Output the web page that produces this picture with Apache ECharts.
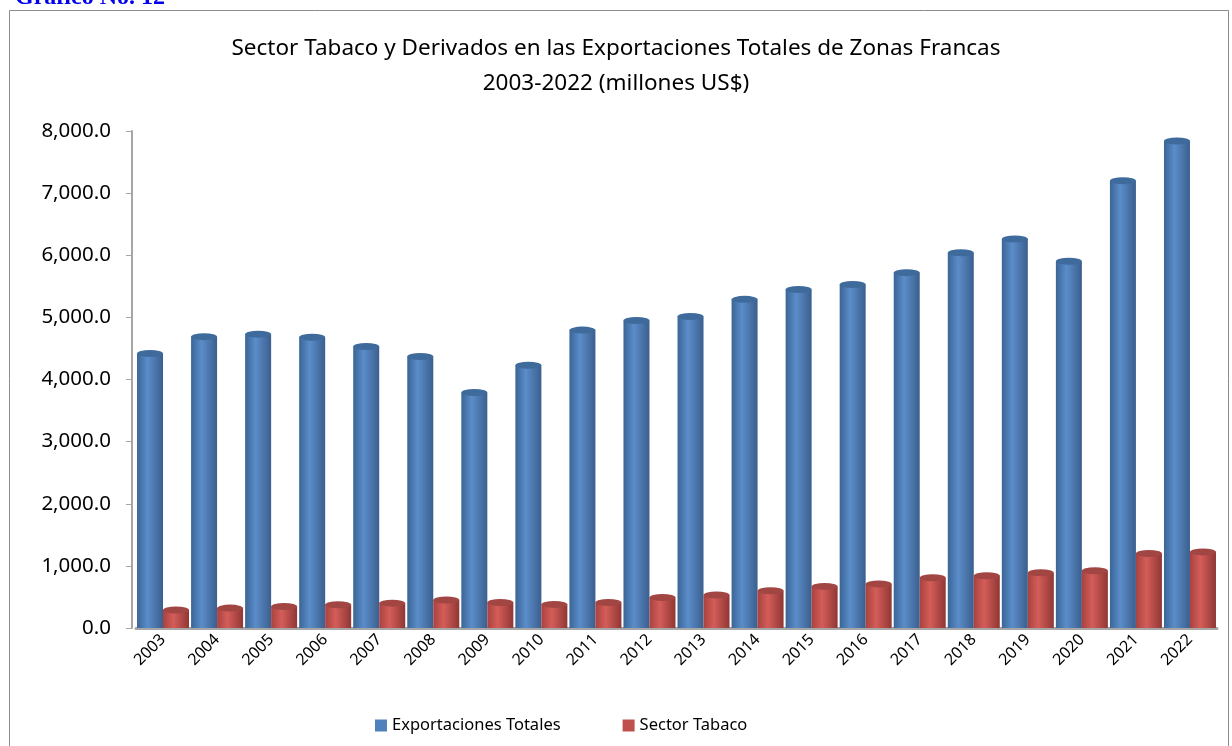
<!DOCTYPE html>
<html>
<head>
    <meta charset="UTF-8">
    <title>Sector Tabaco</title>
    <script src="https://cdn.jsdelivr.net/npm/echarts@6/dist/echarts.min.js"></script>
    <style>
        html, body {margin: 0; padding: 0; background: #fff;}
    </style>
</head>
<body>
    <div id="main" style="width:1232px;height:746px"></div>
    <script>
        // datos
        var years = ['2003','2004','2005','2006','2007','2008','2009','2010','2011','2012',
                     '2013','2014','2015','2016','2017','2018','2019','2020','2021','2022'];
        var exportaciones = [4420, 4690, 4730, 4680, 4530, 4370, 3790, 4230, 4795, 4950,
                             5015, 5290, 5450, 5530, 5720, 6040, 6260, 5905, 7200, 7840];
        var tabaco = [290, 320, 345, 375, 400, 450, 410, 380, 410, 490,
                      530, 600, 670, 710, 810, 840, 890, 920, 1200, 1225];
        var yTicks = [0, 1000, 2000, 3000, 4000, 5000, 6000, 7000, 8000];

        var font = '"Noto Sans", "Open Sans", sans-serif';

        function fmt(v) {
            return v.toLocaleString('en-US', {minimumFractionDigits: 1, maximumFractionDigits: 1});
        }

        function cyl(c1, c2, c3) {
            return new echarts.graphic.LinearGradient(0, 0, 1, 0, [
                {offset: 0, color: c1},
                {offset: 0.4, color: c2},
                {offset: 1, color: c3}
            ]);
        }

        var app = echarts.init(document.getElementById('main'));
        var option = {
            animation: false,
            title: {
                text: 'Sector Tabaco y Derivados en las Exportaciones Totales de Zonas Francas\n2003-2022 (millones US$)',
                left: 'center',
                top: 26,
                textStyle: {fontFamily: font, fontSize: 22.5, fontWeight: 'normal', color: '#000', lineHeight: 35}
            },
            graphic: [
                {
                    type: 'rect',
                    shape: {x: 9.5, y: 10.5, width: 1219, height: 760},
                    style: {fill: 'none', stroke: '#8c8c8c', lineWidth: 1}
                },
                {
                    type: 'text',
                    x: 15,
                    y: 10,
                    style: {text: 'Gráfico No. 12', fill: '#0000ee', font: 'bold 24px "Liberation Serif", serif', verticalAlign: 'bottom'}
                }
            ],
            legend: {
                top: 712,
                left: 370,
                itemWidth: 12,
                itemHeight: 12,
                itemGap: 62,
                textStyle: {fontFamily: font, fontSize: 16.5, color: '#000'}
            },
            grid: {left: 136, right: 15, top: 131, bottom: 118},
            xAxis: {
                type: 'category',
                data: years,
                axisLine: {lineStyle: {color: '#a6a6a6', width: 3}},
                axisTick: {show: false},
                axisLabel: {rotate: 45, fontFamily: font, fontSize: 16, color: '#000', margin: 9}
            },
            yAxis: {
                type: 'value',
                min: yTicks[0],
                max: yTicks[yTicks.length - 1],
                interval: 1000,
                offset: 4,
                axisLine: {show: true, lineStyle: {color: '#a6a6a6', width: 2}},
                axisTick: {show: true, length: 6, lineStyle: {color: '#a6a6a6'}},
                splitLine: {show: false},
                axisLabel: {fontFamily: font, fontSize: 20.5, color: '#000', margin: 21, formatter: fmt}
            },
            series: [
                {
                    name: 'Exportaciones Totales',
                    type: 'bar',
                    barWidth: 26,
                    barGap: '0%',
                    data: exportaciones,
                    itemStyle: {color: cyl('#3a6596', '#5b8dca', '#3b5f8e')}
                },
                {
                    name: 'Sector Tabaco',
                    type: 'bar',
                    barWidth: 26,
                    barGap: '0%',
                    data: tabaco,
                    itemStyle: {color: cyl('#a8423f', '#d45d59', '#903734')}
                },
                {
                    name: 'Exportaciones Totales',
                    type: 'pictorialBar',
                    barWidth: 26,
                    barGap: '0%',
                    symbol: 'circle',
                    symbolSize: [26, 7],
                    symbolPosition: 'end',
                    symbolOffset: [0, '-50%'],
                    z: 3,
                    data: exportaciones,
                    itemStyle: {color: '#3f6a9c'}
                },
                {
                    name: 'Sector Tabaco',
                    type: 'pictorialBar',
                    barWidth: 26,
                    barGap: '0%',
                    symbol: 'circle',
                    symbolSize: [26, 7],
                    symbolPosition: 'end',
                    symbolOffset: [0, '-50%'],
                    z: 3,
                    data: tabaco,
                    itemStyle: {color: '#a24643'}
                }
            ]
        };
        option.legend.data = [
            {name: 'Exportaciones Totales', icon: 'rect', itemStyle: {color: '#4f81bd'}},
            {name: 'Sector Tabaco', icon: 'rect', itemStyle: {color: '#c0504d'}}
        ];
        app.setOption(option);
    </script>
</body>
</html>
